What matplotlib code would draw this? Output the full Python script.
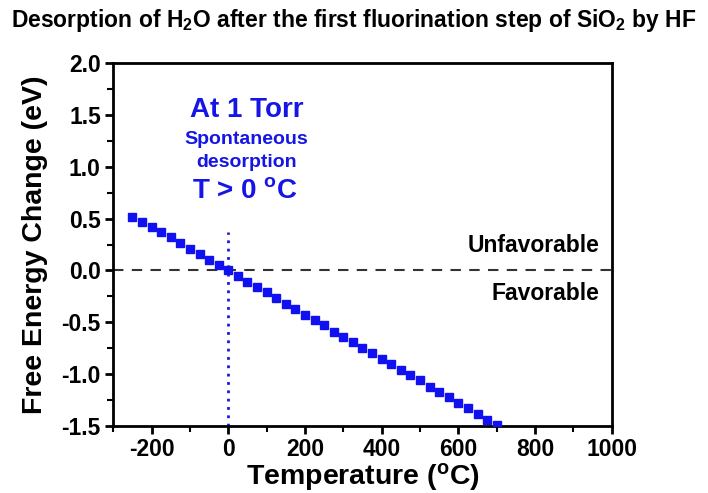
import numpy as np
import matplotlib
matplotlib.use("Agg")
import matplotlib.pyplot as plt
from matplotlib.ticker import MultipleLocator

plt.rcParams['font.family'] = ['Liberation Sans', 'DejaVu Sans']
plt.rcParams['font.weight'] = 'bold'
plt.rcParams['axes.unicode_minus'] = False
plt.rcParams['mathtext.fontset'] = 'custom'
plt.rcParams['mathtext.rm'] = 'Liberation Sans:bold'
plt.rcParams['mathtext.bf'] = 'Liberation Sans:bold'
plt.rcParams['mathtext.it'] = 'Liberation Sans:bold'

# temperature (C) and free energy change (eV)
temperature = [-250, -225, -200, -175, -150, -125, -100, -75, -50, -25,
               0, 25, 50, 75, 100, 125, 150, 175, 200, 225,
               250, 275, 300, 325, 350, 375, 400, 425, 450, 475,
               500, 525, 550, 575, 600, 625, 650, 675, 700]
free_energy = [0.52, 0.47, 0.42, 0.37, 0.32, 0.26, 0.21, 0.16, 0.10, 0.05,
               0.00, -0.05, -0.11, -0.16, -0.21, -0.27, -0.32, -0.37, -0.43, -0.48,
               -0.53, -0.59, -0.64, -0.69, -0.75, -0.80, -0.85, -0.90, -0.96, -1.01,
               -1.06, -1.12, -1.17, -1.22, -1.28, -1.33, -1.38, -1.44, -1.49]

fig = plt.figure(figsize=(7.08, 4.93), dpi=100)
ax = fig.add_axes([0.160, 0.136, 0.704, 0.736])

ax.axhline(0, color='#333333', lw=1.5, ls=(0, (5, 4)), zorder=1)
ax.plot([0, 0], [-1.5, 0.37], color='#1a1adc', lw=2, ls=(0, (1, 2)), zorder=2)
ax.plot(temperature, free_energy, 's', color='#1010f0', ms=6, mec='#1010f0', zorder=3)

ax.set_xlim(-300, 1000)
ax.set_ylim(-1.5, 2.0)
ax.xaxis.set_major_locator(MultipleLocator(200))
ax.xaxis.set_minor_locator(MultipleLocator(100))
ax.yaxis.set_major_locator(MultipleLocator(0.5))
ax.yaxis.set_minor_locator(MultipleLocator(0.25))
ax.set_xticks(range(-200, 1001, 200))

for s in ax.spines.values():
    s.set_linewidth(2)
ax.tick_params(which='major', direction='out', length=6, width=2, labelsize=16.5, pad=3)
ax.tick_params(which='minor', direction='out', length=4, width=1.5)

ax.set_xlabel(r'Temperature ($^{\rm o}$C)', fontsize=20.5, fontweight='bold', labelpad=0)
ax.set_ylabel('Free Energy Change (eV)', fontsize=20.5, fontweight='bold', labelpad=10)
fig.suptitle(r'Desorption of H$_2$O after the first fluorination step of SiO$_2$ by HF',
             fontsize=16.5, fontweight='bold', x=0.5, y=0.985)

blue = '#1515e6'
ax.text(47, 1.55, 'At 1 Torr', color=blue, fontsize=20, ha='center', va='center')
ax.text(47, 1.26, 'Spontaneous', color=blue, fontsize=14, ha='center', va='center')
ax.text(47, 1.04, 'desorption', color=blue, fontsize=14, ha='center', va='center')
ax.text(44, 0.77, r'T > 0 $^{\rm o}$C', color=blue, fontsize=20, ha='center', va='center')

ax.text(968, 0.24, 'Unfavorable', fontsize=16.5, ha='right', va='center')
ax.text(968, -0.22, 'Favorable', fontsize=16.5, ha='right', va='center')

fig.savefig('out.png', dpi=100)
